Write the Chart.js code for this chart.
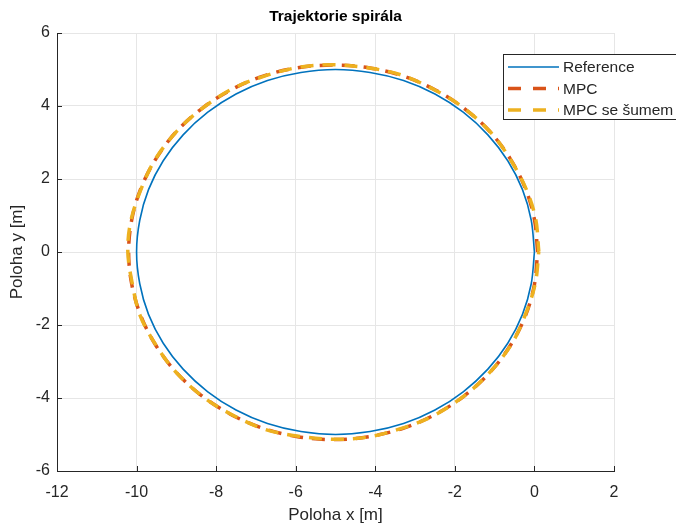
<!DOCTYPE html>
<html>
<head>
<meta charset="utf-8">
<script src="https://cdn.jsdelivr.net/npm/chart.js@4/dist/chart.umd.min.js"></script>
<style>
  html, body { margin: 0; padding: 0; background: #fff; }
  #wrap { width: 676px; height: 526px; position: relative; }
</style>
</head>
<body>
<div id="wrap"><canvas id="chart" width="676" height="526"></canvas></div>
<script>
const TITLE = 'Trajektorie spirála';
const X_LABEL = 'Poloha x [m]';
const Y_LABEL = 'Poloha y [m]';
const X_TICKS = [-12, -10, -8, -6, -4, -2, 0, 2];
const Y_TICKS = [-6, -4, -2, 0, 2, 4, 6];

// values, every 10 degrees round the circle
const refX = [0, -0.08, -0.30, -0.67, -1.17, -1.79, -2.5, -3.29, -4.13, -5, -5.87, -6.71, -7.5, -8.21, -8.83, -9.33, -9.70, -9.92, -10,
  -9.92, -9.70, -9.33, -8.83, -8.21, -7.5, -6.71, -5.87, -5, -4.13, -3.29, -2.5, -1.79, -1.17, -0.67, -0.30, -0.08, 0];
const refY = [0, 0.87, 1.71, 2.5, 3.21, 3.83, 4.33, 4.70, 4.92, 5, 4.92, 4.70, 4.33, 3.83, 3.21, 2.5, 1.71, 0.87, 0,
  -0.87, -1.71, -2.5, -3.21, -3.83, -4.33, -4.70, -4.92, -5, -4.92, -4.70, -4.33, -3.83, -3.21, -2.5, -1.71, -0.87, 0];

const mpcX = [0.08, 0.00, -0.23, -0.61, -1.12, -1.76, -2.49, -3.30, -4.17, -5.06, -5.95, -6.82, -7.63, -8.36, -9.00, -9.51, -9.89, -10.12, -10.20,
  -10.12, -9.89, -9.51, -9.00, -8.36, -7.63, -6.82, -5.95, -5.06, -4.17, -3.30, -2.49, -1.76, -1.12, -0.61, -0.23, 0.00, 0.08];
const mpcY = [0, 0.89, 1.75, 2.56, 3.30, 3.93, 4.44, 4.82, 5.05, 5.12, 5.05, 4.82, 4.44, 3.93, 3.30, 2.56, 1.75, 0.89, 0,
  -0.89, -1.76, -2.57, -3.30, -3.94, -4.45, -4.83, -5.06, -5.14, -5.06, -4.83, -4.45, -3.94, -3.30, -2.57, -1.76, -0.89, 0];

const noiseX = [0.11, 0.03, -0.21, -0.63, -1.10, -1.78, -2.47, -3.32, -4.15, -5.08, -5.93, -6.84, -7.61, -8.38, -8.98, -9.53, -9.87, -10.14, -10.22,
  -10.10, -9.91, -9.49, -9.02, -8.34, -7.65, -6.80, -5.97, -5.04, -4.19, -3.28, -2.51, -1.74, -1.14, -0.59, -0.25, 0.02, 0.11];
const noiseY = [0.02, 0.91, 1.73, 2.58, 3.28, 3.95, 4.42, 4.84, 5.04, 5.13, 5.06, 4.80, 4.46, 3.91, 3.32, 2.54, 1.77, 0.87, 0.02,
  -0.91, -1.74, -2.59, -3.28, -3.96, -4.43, -4.85, -5.04, -5.13, -5.07, -4.81, -4.47, -3.92, -3.32, -2.55, -1.78, -0.87, 0.02];

const SERIES = [
  { label: 'Reference', xs: refX, ys: refY, color: '#0072BD', width: 1.6, dash: [], order: 3 },
  { label: 'MPC', xs: mpcX, ys: mpcY, color: '#D95319', width: 3.5, dash: [13, 9], offset: 0, order: 2 },
  { label: 'MPC se šumem', xs: noiseX, ys: noiseY, color: '#EDB120', width: 3.5, dash: [13, 9], offset: 3, order: 1 },
];

const FONT = '"Liberation Sans", Arial, Helvetica, sans-serif';
const TEXT = '#262626';

const toPoints = (xs, ys) => xs.map((x, i) => ({ x, y: ys[i] }));

const matlabDecor = {
  id: 'matlabDecor',
  afterDraw(chart) {
    const { ctx, chartArea, scales } = chart;
    ctx.save();
    // inward ticks
    ctx.strokeStyle = TEXT;
    ctx.lineWidth = 1;
    ctx.beginPath();
    X_TICKS.forEach(v => {
      const px = Math.round(scales.x.getPixelForValue(v)) + 0.5;
      ctx.moveTo(px, chartArea.bottom);
      ctx.lineTo(px, chartArea.bottom - 5);
    });
    Y_TICKS.forEach(v => {
      const py = Math.round(scales.y.getPixelForValue(v)) + 0.5;
      ctx.moveTo(chartArea.left, py);
      ctx.lineTo(chartArea.left + 5, py);
    });
    ctx.stroke();

    // title
    ctx.fillStyle = '#000';
    ctx.font = 'bold 15.5px ' + FONT;
    ctx.textAlign = 'center';
    ctx.textBaseline = 'middle';
    ctx.fillText(TITLE, (chartArea.left + chartArea.right) / 2, 17);

    // legend box
    const bx = 503.5, by = 54.5, bw = 180, bh = 65;
    ctx.fillStyle = '#fff';
    ctx.fillRect(bx, by, bw, bh);
    ctx.strokeStyle = '#262626';
    ctx.lineWidth = 1;
    ctx.strokeRect(bx, by, bw, bh);
    ctx.font = '15.5px ' + FONT;
    ctx.textAlign = 'left';
    SERIES.forEach((s, i) => {
      const ly = 67 + i * 21.5;
      ctx.beginPath();
      ctx.strokeStyle = s.color;
      ctx.lineWidth = s.width;
      ctx.setLineDash(s.dash.length ? [13, 12] : []);
      ctx.moveTo(508, ly);
      ctx.lineTo(559, ly);
      ctx.stroke();
      ctx.setLineDash([]);
      ctx.fillStyle = TEXT;
      ctx.fillText(s.label, 563, ly + 1);
    });
    ctx.restore();
  },
};

new Chart(document.getElementById('chart'), {
  type: 'scatter',
  data: {
    datasets: SERIES.map(s => ({
      label: s.label,
      data: toPoints(s.xs, s.ys),
      showLine: true,
      borderColor: s.color,
      backgroundColor: s.color,
      borderWidth: s.width,
      borderDash: s.dash,
      borderDashOffset: s.offset || 0,
      pointRadius: 0,
      tension: 0.34,
      order: s.order,
    })),
  },
  options: {
    responsive: false,
    animation: false,
    layout: { padding: { left: 0, right: 62, top: 33, bottom: 0 } },
    plugins: { legend: { display: false }, title: { display: false }, tooltip: { enabled: false } },
    scales: {
      x: {
        type: 'linear',
        min: -12,
        max: 2,
        afterFit: scale => { scale.height = 55; },
        afterBuildTicks: scale => { scale.ticks = X_TICKS.map(value => ({ value })); },
        grid: { color: '#e6e6e6', drawTicks: false },
        border: { color: TEXT, width: 1 },
        ticks: { color: TEXT, font: { family: FONT, size: 16 }, padding: 12 },
        title: { display: true, text: X_LABEL, color: TEXT, font: { family: FONT, size: 17 }, padding: { top: 0, bottom: 0 } },
      },
      y: {
        type: 'linear',
        min: -6,
        max: 6,
        afterFit: scale => { scale.width = 57; },
        afterBuildTicks: scale => { scale.ticks = Y_TICKS.map(value => ({ value })); },
        grid: { color: '#e6e6e6', drawTicks: false },
        border: { color: TEXT, width: 1 },
        ticks: { color: TEXT, font: { family: FONT, size: 16 }, padding: 7 },
        title: { display: true, text: Y_LABEL, color: TEXT, font: { family: FONT, size: 17 }, padding: { top: 7, bottom: 0 } },
      },
    },
  },
  plugins: [matlabDecor],
});
</script>
</body>
</html>
